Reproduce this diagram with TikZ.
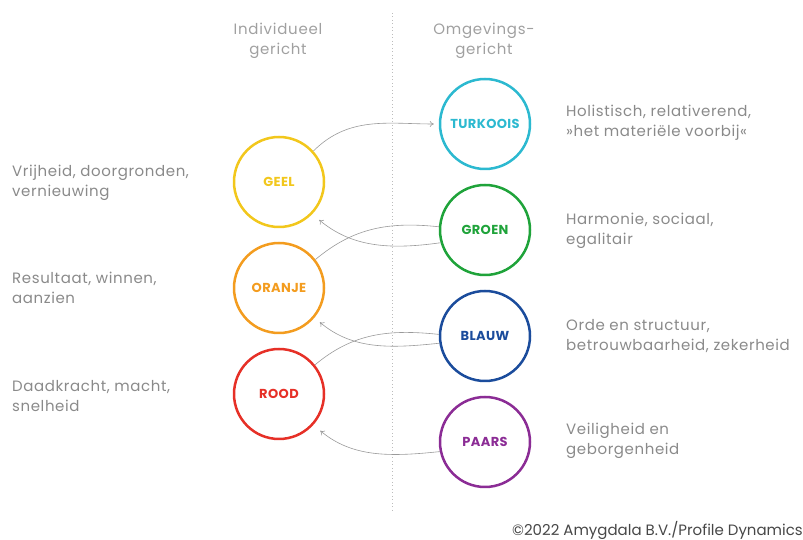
\documentclass[tikz,border=0pt]{standalone}
\usepackage{fontspec}
\setmainfont{Poppins}
\usetikzlibrary{arrows.meta}

\definecolor{geel}{HTML}{F2C71C}
\definecolor{oranje}{HTML}{F39C1F}
\definecolor{rood}{HTML}{E63027}
\definecolor{turkoois}{HTML}{2CB9D0}
\definecolor{groen}{HTML}{1FA33A}
\definecolor{blauw}{HTML}{1B4C9C}
\definecolor{paars}{HTML}{8B2C95}
\definecolor{tekstgrijs}{HTML}{8A8A8A}
\definecolor{kopgrijs}{HTML}{A0A0A0}
\definecolor{pijlgrijs}{HTML}{9A9A9A}

\tikzset{
  ring/.style={circle,draw=#1,text=#1,line width=2.5pt,minimum size=90pt,
    inner sep=0pt,font=\bfseries\fontsize{13}{14}\selectfont\addfontfeature{LetterSpace=3}},
  desc/.style={anchor=west,align=left,text=tekstgrijs,inner sep=0pt,
    font=\fontsize{15}{20}\selectfont\addfontfeature{LetterSpace=4}},
  head/.style={align=center,text=kopgrijs,
    font=\fontsize{15}{20.5}\selectfont\addfontfeature{LetterSpace=5}},
  link/.style={draw=pijlgrijs,line width=0.6pt},
  >={To[length=4pt,width=6pt]}
}

\begin{document}
\begin{tikzpicture}[x=1pt,y=1pt]

	\useasboundingbox (0,0) rectangle (803,540);

	% scheidingslijn
	\coordinate (top) at (392,527);
	\coordinate (bottom) at (392,27);
	\draw[kopgrijs!70,line width=1pt,dash pattern=on 1pt off 2.5pt] (top) -- (bottom);

	\node (indiv) at (278,499) [head] {Individueel\\gericht};
	\node (omgev) at (484,499) [head] {Omgevings-\\gericht};

	% linker kolom
	\node (geel) at (279,358) [ring=geel] {GEEL};
	\node (oranje) at (279,252) [ring=oranje] {ORANJE};
	\node (rood) at (279,146) [ring=rood] {ROOD};

	% rechter kolom
	\node (turk) at (485,416) [ring=turkoois] {TURKOOIS};
	\node (groen) at (485,310) [ring=groen] {GROEN};
	\node (blauw) at (485,204) [ring=blauw] {BLAUW};
	\node (paars) at (485,98) [ring=paars] {PAARS};

	\node (tgeel) at (12,357) [desc] {Vrijheid, doorgronden,\\vernieuwing};
	\node (toranje) at (12,252) [desc] {Resultaat, winnen,\\aanzien};
	\node (trood) at (12,144) [desc] {Daadkracht, macht,\\snelheid};

	\node (tturk) at (566,417) [desc] {Holistisch, relativerend,\\»het materiële voorbij«};
	\node (tgroen) at (566,309) [desc] {Harmonie, sociaal,\\egalitair};
	\node (tblauw) at (566,204) [desc] {Orde en structuur,\\betrouwbaarheid, zekerheid};
	\node (tpaars) at (566,99) [desc] {Veiligheid en\\geborgenheid};

	% verbindingen
	\draw[link,->,shorten >=5pt] (geel.42) to[out=45,in=180] (turk.west);
	\draw[link,->,shorten >=9pt] (groen.196) to[out=188,in=-40] (geel.-44);
	\draw[link] (oranje.38) to[out=40,in=174] (groen.176);
	\draw[link,->,shorten >=7pt] (blauw.189) to[out=186,in=-40] (oranje.-40);
	\draw[link] (rood.39) to[out=40,in=174] (blauw.178);
	\draw[link,->,shorten >=9pt] (paars.192) to[out=186,in=-40] (rood.-42);

	\node (copy) at (803,4) [anchor=base east,inner sep=0pt,text=black!72,font=\fontsize{15}{16}\selectfont] {©2022 Amygdala B.V./Profile Dynamics};

\end{tikzpicture}
\end{document}
